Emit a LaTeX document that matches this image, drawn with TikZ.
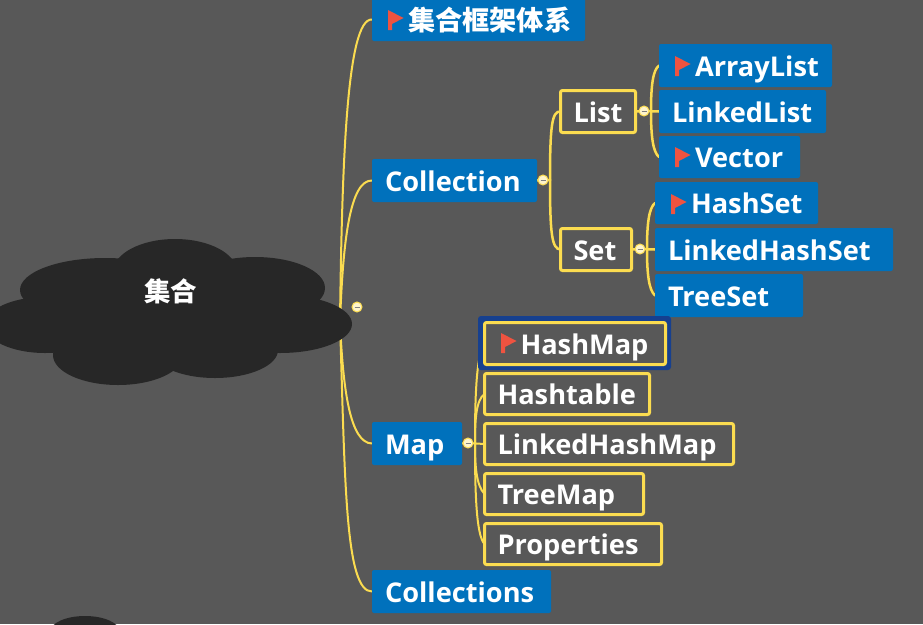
\documentclass[tikz,border=0pt]{standalone}
\usepackage{fontspec}
\setmainfont{Open Sans}
\newfontfamily\cjk{Noto Sans CJK SC}
\usetikzlibrary{backgrounds}
\pgfdeclarelayer{conn}
\pgfdeclarelayer{cloudlayer}
\pgfsetlayers{background,conn,cloudlayer,main}
\definecolor{bgc}{HTML}{585858}
\definecolor{blu}{HTML}{0071BC}
\definecolor{yel}{HTML}{FBDC50}
\definecolor{cld}{HTML}{272727}
\definecolor{flg}{HTML}{EF5340}
\definecolor{sel}{HTML}{16408F}
\tikzset{
  x=1pt,y=-1pt,
  base/.style={anchor=west,inner xsep=0pt,inner ysep=0pt,outer sep=0pt,text height=28pt,text depth=7pt,
    font=\fontsize{27.2}{30}\selectfont\bfseries,text=white,align=left,rounded corners=2pt},
  bluebox/.style={base,fill=blu},
  yelbox/.style={base,draw=yel,line width=3pt},
  selbox/.style={yelbox,fill=bgc},
  collapse/.style={circle,fill=yel!30!white,draw=yel,line width=1pt,minimum size=10pt,inner sep=0pt,outer sep=0pt,
    path picture={\draw[gray,line width=1pt] ([xshift=-2.5pt]path picture bounding box.center)--([xshift=2.5pt]path picture bounding box.center);}},
  link/.style={draw=yel,line width=2pt,line cap=round},
  cloudpart/.style={fill=cld,draw=none},
}
\newcommand{\bx}[8]{%
  \pgfmathsetmacro{\bw}{#4-#3}\pgfmathsetmacro{\bh}{#6-#5}\pgfmathsetmacro{\by}{(#5+#6)/2}%
  \node[#1,text width=\bw pt,minimum height=\bh pt] (#2) at (#3,\by) {\hspace*{#7pt}#8};}
\newcommand{\flagat}[2]{\fill[flg] (#1,#2)--++(15.5,8)--++(-11.5,6)--++(0,6)--++(-4,0)--cycle;}
\begin{document}
\begin{tikzpicture}
\useasboundingbox (0,0) rectangle (923,624);
\clip (0,0) rectangle (923,624);
\begin{pgfonlayer}{background}
\fill[bgc] (0,0) rectangle (923,624);
\end{pgfonlayer}
% cloud
\begin{pgfonlayer}{cloudlayer}
\foreach \cx/\cy/\rx/\ry in {175/272/62/33,105/290/85/32,45/325/60/28,118/355/65/30,215/350/63/28,255/288/70/31,280/324/72/29,170/310/130/45,85/632/35/16}
  \fill[cloudpart] (\cx,\cy) ellipse [x radius=\rx, y radius=\ry];
\end{pgfonlayer}
\node[font=\fontsize{26.5}{30}\selectfont\cjk\bfseries,text=white,inner sep=0pt] (root) at (170.5,291) {集合};
\coordinate (rootout) at (340,322);
\node[collapse] (c0) at (357,307) {};
% level 1
\bx{bluebox}{sys}{372}{585}{-2}{41}{36}{\cjk\fontsize{27.2}{30}\selectfont 集合框架体系}
\bx{bluebox}{coll}{372}{537}{159}{202}{13}{Collection}
\bx{bluebox}{map}{372}{462}{422}{465}{13}{Map}
\bx{bluebox}{colls}{372}{551}{570}{613}{13}{Collections}
% level 2
\bx{yelbox}{list}{560.5}{635.5}{90.5}{132.5}{13}{List}
\bx{yelbox}{set}{560.5}{631.5}{228.5}{270.5}{13}{Set}
% list children
\bx{bluebox}{al}{659}{832}{44}{87}{36}{ArrayList}
\bx{bluebox}{ll}{659}{826}{90}{133}{13}{LinkedList}
\bx{bluebox}{vec}{659}{800}{136}{178}{36}{Vector}
% set children
\bx{bluebox}{hs}{655}{818}{182}{224}{36}{HashSet}
\bx{bluebox}{lhs}{655}{893}{228}{271}{13}{LinkedHashSet}
\bx{bluebox}{ts}{655}{803}{274}{317}{13}{TreeSet}
% map children
\fill[sel,rounded corners=3pt] (478,316) rectangle (671,370);
\bx{selbox}{hm}{484.5}{665.5}{322.5}{364.5}{36}{HashMap}
\bx{yelbox}{ht}{484.5}{649.5}{373.5}{414.5}{13}{Hashtable}
\bx{yelbox}{lhm}{484.5}{733.5}{423.5}{464.5}{13}{LinkedHashMap}
\bx{yelbox}{tm}{484.5}{643.5}{473.5}{514.5}{13}{TreeMap}
\bx{yelbox}{pr}{484.5}{661.5}{523.5}{564.5}{13}{Properties}
% collapse marks
\node[collapse] (c1) at (543,180) {};
\node[collapse] (c2) at (644,111) {};
\node[collapse] (c3) at (640,249) {};
\node[collapse] (c4) at (468,443) {};
\coordinate (j1) at (550,180);
\coordinate (j2) at (651,111);
\coordinate (j3) at (647,249);
\coordinate (j4) at (475,443);
% flags
\flagat{388}{10}
\flagat{675}{56}
\flagat{675}{147}
\flagat{671}{194}
\flagat{501}{333}
% connectors
\begin{pgfonlayer}{conn}
\path[link] (rootout) .. controls (342,160) and (347,18) .. (sys.west);
\path[link] (rootout) .. controls (343,240) and (350,180) .. (coll.west);
\path[link] (rootout) .. controls (343,390) and (350,443) .. (map.west);
\path[link] (rootout) .. controls (345,480) and (345,592) .. (colls.west);
\path[link,line width=2.5pt] (coll.east) -- (c1) -- (j1);
\path[link,line width=2.5pt] (j1) .. controls (550,125) and (552,111) .. (list.west);
\path[link,line width=2.5pt] (j1) .. controls (550,235) and (552,249) .. (set.west);
\path[link,line width=2.5pt] (list.east) -- (c2) -- (ll.west);
\path[link,line width=2.5pt] (j2) .. controls (651,85) and (653,70) .. (al.west);
\path[link,line width=2.5pt] (j2) .. controls (651,137) and (653,152) .. (vec.west);
\path[link,line width=2.5pt] (set.east) -- (c3) -- (lhs.west);
\path[link,line width=2.5pt] (j3) .. controls (647,223) and (649,208) .. (hs.west);
\path[link,line width=2.5pt] (j3) .. controls (647,275) and (649,290) .. (ts.west);
\path[link] (map.east) -- (c4) -- (lhm.west);
\path[link] (j4) .. controls (475,400) and (476,355) .. (hm.west);
\path[link] (j4) .. controls (475,420) and (476,400) .. (ht.west);
\path[link] (j4) .. controls (475,465) and (476,485) .. (tm.west);
\path[link] (j4) .. controls (475,490) and (476,535) .. (pr.west);
\end{pgfonlayer}
\end{tikzpicture}
\end{document}
